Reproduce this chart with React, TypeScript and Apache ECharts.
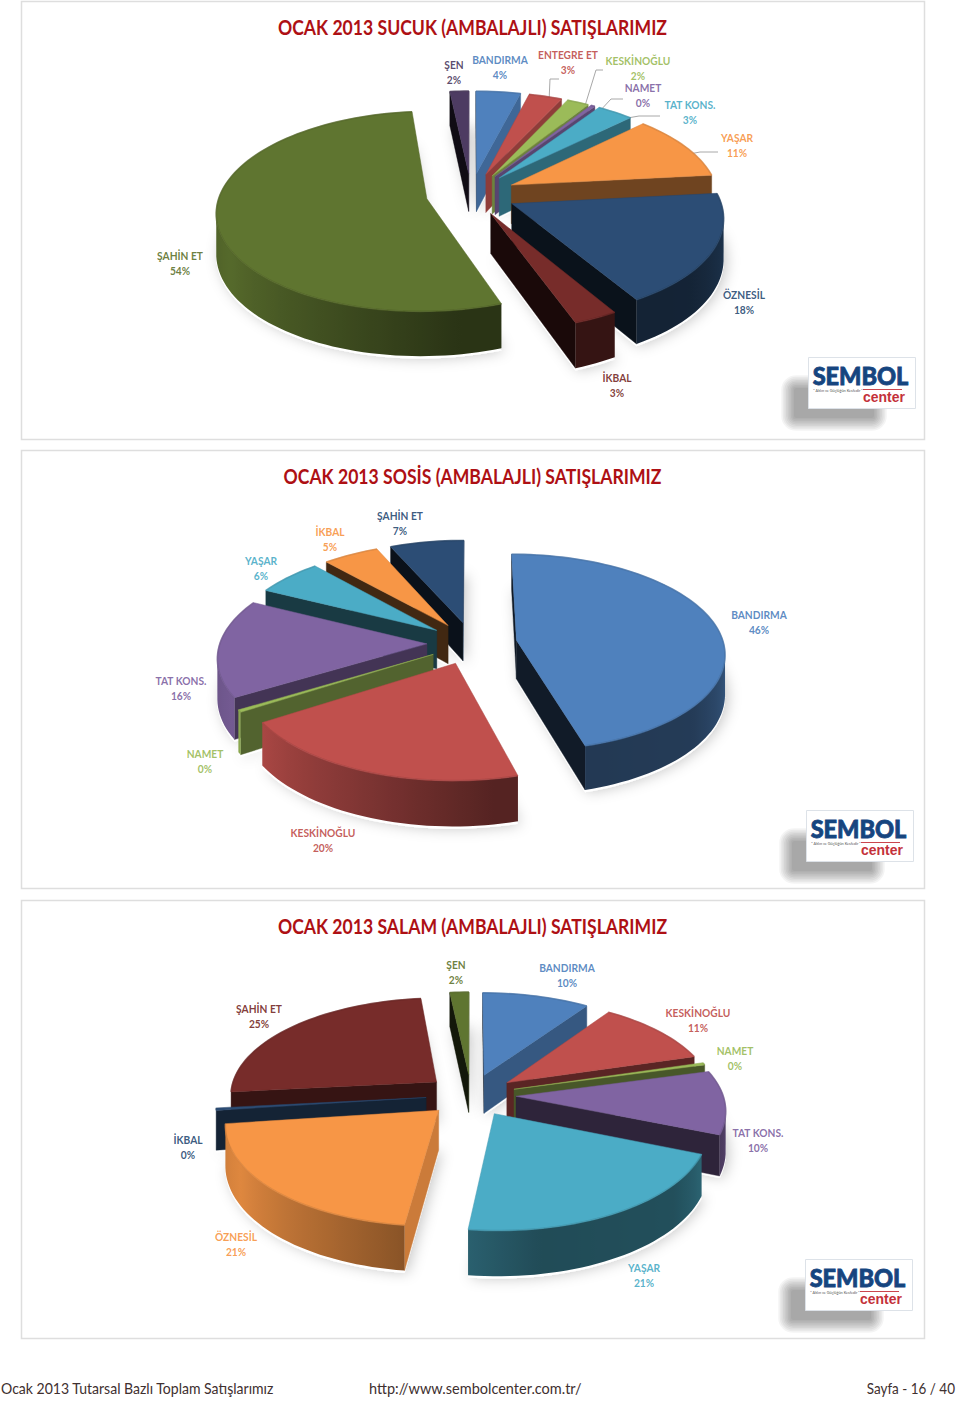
import React, { useEffect, useRef } from "react";
import * as echarts from "echarts";

const FONT = "Lato, 'Open Sans', sans-serif";

// ---------- data ----------
const title1 = "OCAK 2013 SUCUK (AMBALAJLI) SATIŞLARIMIZ";
const categories1 = ["BANDIRMA", "ENTEGRE ET", "KESKİNOĞLU", "NAMET", "TAT KONS.", "YAŞAR", "ÖZNESİL", "İKBAL", "ŞAHİN ET", "ŞEN"];
const values1 = [4, 3, 2, 0.4, 3.3, 10.7, 18.2, 3, 54, 1.7];
const colors1 = ["#4F81BD", "#C0504D", "#9BBB59", "#8064A2", "#4BACC6", "#F79646", "#2C4D75", "#772C2A", "#5F7530", "#4D3B62"];
const labelPos1 = [[500, 60], [568, 55], [638, 61], [643, 88], [690, 105], [737, 138], [744, 295], [617, 378], [180, 256], [454, 65]];

const title2 = "OCAK 2013 SOSİS (AMBALAJLI) SATIŞLARIMIZ";
const categories2 = ["BANDIRMA", "KESKİNOĞLU", "NAMET", "TAT KONS.", "YAŞAR", "İKBAL", "ŞAHİN ET"];
const values2 = [45.6, 20.2, 0.4, 16, 6, 5, 6.6];
const colors2 = ["#4F81BD", "#C0504D", "#9BBB59", "#8064A2", "#4BACC6", "#F79646", "#2C4D75"];
const labelPos2 = [[759, 615], [323, 833], [205, 754], [181, 681], [261, 561], [330, 532], [400, 516]];

const title3 = "OCAK 2013 SALAM (AMBALAJLI) SATIŞLARIMIZ";
const categories3 = ["BANDIRMA", "KESKİNOĞLU", "NAMET", "TAT KONS.", "YAŞAR", "ÖZNESİL", "İKBAL", "ŞAHİN ET", "ŞEN"];
const values3 = [9.6, 10.8, 0.4, 10.4, 20.8, 21, 0.4, 25, 1.7];
const colors3 = ["#4F81BD", "#C0504D", "#9BBB59", "#8064A2", "#4BACC6", "#F79646", "#2C4D75", "#772C2A", "#5F7530"];
const labelPos3 = [[567, 968], [698, 1013], [735, 1051], [758, 1133], [644, 1268], [236, 1237], [188, 1140], [259, 1009], [456, 965]];

const footerLeft = "Ocak 2013 Tutarsal Bazlı Toplam Satışlarımız";
const footerMid = "http://www.sembolcenter.com.tr/";
const footerRight = "Sayfa - 16 / 40";

// ---------- layout ----------
const pies = [
  { categories: categories1, values: values1, colors: colors1, labelPos: labelPos1, cx: 471, cy: 194 },
  { categories: categories2, values: values2, colors: colors2, labelPos: labelPos2, cx: 472, cy: 643 },
  { categories: categories3, values: values3, colors: colors3, labelPos: labelPos3, cx: 471, cy: 1095 },
];
const panels = [
  { y: 1, title: title1, titleX: 472.5, titleY: 27, logoX: 808, logoY: 357 },
  { y: 450, title: title2, titleX: 472.5, titleY: 476, logoX: 806, logoY: 810 },
  { y: 900, title: title3, titleX: 472.5, titleY: 926, logoX: 805, logoY: 1259 },
];
const leaders = [
  [[559, 79], [550, 79], [549, 102]],
  [[603, 70], [596, 70], [584, 109]],
  [[623, 99], [611, 99], [598, 113]],
  [[660, 116], [639, 116], [616, 120]],
  [[718, 152], [700, 152], [679, 156]],
];
const R = 207, K = 0.47, Q = 0.0006, E = 45, T = 39;

// ---------- helpers ----------
const rad = (d: number) => (d * Math.PI) / 180;
function shade(hex: string, f: number) {
  const n = parseInt(hex.slice(1), 16);
  const c = [(n >> 16) & 255, (n >> 8) & 255, n & 255].map((v) => Math.max(0, Math.min(255, Math.round(v * f))));
  return `rgb(${c[0]},${c[1]},${c[2]})`;
}
function lerpTable(table: number[][], x: number) {
  if (x <= table[0][0]) return table[0][1];
  for (let i = 1; i < table.length; i++) {
    if (x <= table[i][0]) {
      const [a, av] = table[i - 1], [b, bv] = table[i];
      return av + ((bv - av) * (x - a)) / (b - a);
    }
  }
  return table[table.length - 1][1];
}
const rimShade = [[60, 0.8], [90, 0.72], [130, 0.46], [170, 0.44], [205, 0.68], [240, 0.9], [270, 0.8], [300, 0.7]];
function radialShade(normalDeg: number) {
  const nx = Math.sin(rad(normalDeg));
  return nx >= 0 ? 0.45 + 0.38 * Math.pow(nx, 2.5) : 0.45 + 0.25 * nx;
}

function buildPieSeries(p: any) {
  const total = p.values.reduce((a: number, b: number) => a + b, 0);
  let cum = 0;
  const geo = p.values.map((v: number) => {
    const a0 = (cum / total) * 360;
    cum += v;
    const a1 = (cum / total) * 360;
    const mid = (a0 + a1) / 2;
    return { a0, a1, ox: E * Math.sin(rad(mid)), oy: E * Math.cos(rad(mid)) };
  });
  const order = geo
    .map((g: any, i: number) => {
      const m = (g.a0 + g.a1) / 2;
      return { i, depth: g.oy + 0.55 * R * Math.cos(rad(m)) };
    })
    .sort((a: any, b: any) => b.depth - a.depth)
    .map((d: any) => d.i);

  const project = (X: number, Y: number, drop = 0) => {
    const s = 1 / (1 + Q * Y);
    return [p.cx + X * s, p.cy - Y * K * s + drop * s];
  };
  const faces = (X: number, Y: number, nx: number, ny: number) => (-X) * nx + (-1 / Q - Y) * ny > 0;

  return {
    type: "custom",
    coordinateSystem: "none",
    silent: true,
    data: p.values.map((v: number, i: number) => [i, v]),
    renderItem: (params: any) => {
      const idx = params.dataIndex;
      const g = geo[idx];
      const color = p.colors[idx];
      const zBase = order.indexOf(idx) * 10 + 10;
      const px = (a: number) => [g.ox + R * Math.sin(rad(a)), g.oy + R * Math.cos(rad(a))];
      const arc: number[][] = [];
      const n = Math.max(2, Math.ceil((g.a1 - g.a0) / 2));
      for (let j = 0; j <= n; j++) arc.push(px(g.a0 + ((g.a1 - g.a0) * j) / n));

      const children: any[] = [];
      // soft halo behind the slice
      const floor = [project(g.ox, g.oy, T + 2)].concat(arc.map((q) => project(q[0], q[1], T + 2)));
      children.push({
        type: "polygon", z2: 1,
        shape: { points: floor },
        style: { fill: "#fff", shadowBlur: 14, shadowColor: "rgba(0,0,0,0.22)", shadowOffsetX: 3 },
      });

      const wall = (P: number[], nd: number, z: number) => {
        const nx = Math.sin(rad(nd)), ny = Math.cos(rad(nd));
        if (!faces(P[0], P[1], nx, ny)) return;
        const pts = [project(g.ox, g.oy), project(P[0], P[1]), project(P[0], P[1], T), project(g.ox, g.oy, T)];
        children.push({
          type: "polygon", z2: z,
          shape: { points: pts },
          style: { fill: shade(color, radialShade(nd)), stroke: shade(color, radialShade(nd)), lineWidth: 0.4 },
        });
      };
      const startNormal = g.a0 - 90, endNormal = g.a1 + 90;
      const startFirst = Math.cos(rad(startNormal)) > Math.cos(rad(endNormal));
      wall(px(g.a0), startNormal, zBase + (startFirst ? 1 : 2));
      wall(px(g.a1), endNormal, zBase + (startFirst ? 2 : 1));

      // rim, forward-facing part only
      const rim: number[][] = [];
      const angles: number[] = [];
      for (let j = 0; j <= n; j++) {
        const a = g.a0 + ((g.a1 - g.a0) * j) / n;
        const Pt = arc[j];
        if (faces(Pt[0], Pt[1], Math.sin(rad(a)), Math.cos(rad(a)))) {
          rim.push(Pt);
          angles.push(a);
        }
      }
      if (rim.length > 1) {
        const tops = rim.map((q) => project(q[0], q[1]));
        const bots = rim.map((q) => project(q[0], q[1], T));
        const xs = tops.map((q) => q[0]);
        const minX = Math.min(...xs), maxX = Math.max(...xs);
        const stops = tops
          .map((q, j) => ({ offset: (q[0] - minX) / Math.max(1, maxX - minX), color: shade(color, lerpTable(rimShade, angles[j])) }))
          .sort((a, b) => a.offset - b.offset);
        children.push({
          type: "polygon", z2: zBase + 3,
          shape: { points: tops.concat(bots.reverse()) },
          style: { fill: new echarts.graphic.LinearGradient(0, 0, 1, 0, stops) },
        });
      }
      // top face
      const top = [project(g.ox, g.oy)].concat(arc.map((q) => project(q[0], q[1])));
      children.push({
        type: "polygon", z2: zBase + 5,
        shape: { points: top },
        style: { fill: color, stroke: shade(color, 0.9), lineWidth: 0.5 },
      });
      children.push({
        type: "polyline", z2: zBase + 6,
        shape: { points: arc.map((q) => project(q[0], q[1])) },
        style: { fill: "none", stroke: shade(color, 0.88), lineWidth: 1.6, opacity: 0.7 },
      });
      // label
      const pos = p.labelPos[idx];
      const pct = Math.round((p.values[idx] / total) * 100);
      [p.categories[idx], `${pct}%`].forEach((t: string, li: number) => {
        children.push({
          type: "text", z2: 1000, x: pos[0], y: pos[1] - 0.5 + li * 14.6, scaleX: 0.89,
          style: { text: t, fill: color, font: `bold 11.5px ${FONT}`, align: "center", verticalAlign: "middle", opacity: 0.92 },
        });
      });
      return { type: "group", children };
    },
  };
}

function buildGraphic() {
  const els: any[] = [];
  panels.forEach((pn) => {
    els.push({ type: "rect", z: -10, shape: { x: 21.5, y: pn.y + 0.5, width: 903, height: 438 }, style: { fill: "#fff", stroke: "#dedede", lineWidth: 1.5 } });
    els.push({ type: "text", x: pn.titleX, y: pn.titleY, scaleX: 0.88, style: { text: pn.title, fill: "#AE1014", font: `bold 20px ${FONT}`, align: "center", verticalAlign: "middle" } });
    const lx = pn.logoX, ly = pn.logoY;
    // blurred drop shadow built from layered translucent rectangles
    for (let i = 0; i < 9; i++) {
      const grow = i * 1.6;
      els.push({
        type: "rect", z: -5,
        shape: { x: lx - 14 - grow, y: ly + 31 - grow, width: 80 + 2 * grow, height: 30 + 2 * grow, r: 2 + grow },
        style: { fill: "#000", opacity: 0.042 },
      });
    }
    els.push({ type: "rect", shape: { x: lx + 0.5, y: ly + 0.5, width: 107, height: 51 }, style: { fill: "#fff", stroke: "#dde2e8", lineWidth: 1 } });
    els.push({ type: "text", x: lx + 52.5, y: ly + 19, scaleX: 0.98, style: { text: "SEMBOL", fill: "#16457F", stroke: "#16457F", lineWidth: 0.8, font: `900 24px ${FONT}`, lineHeight: 18, align: "center", verticalAlign: "middle" } });
    els.push({ type: "line", shape: { x1: lx + 55, y1: ly + 32.5, x2: lx + 94, y2: ly + 32.5 }, style: { stroke: "#C4313A", lineWidth: 0.9 } });
    els.push({ type: "text", x: lx + 76, y: ly + 39.5, scaleX: 0.9, style: { text: "center", fill: "#C4313A", font: "bold 15.5px 'Liberation Sans', sans-serif", lineHeight: 12, align: "center", verticalAlign: "middle" } });
    els.push({ type: "text", x: lx + 30, y: ly + 33.5, style: { text: "\" Aklın ve Güçlüğün Kesfedir \"", fill: "#555", font: `3.8px ${FONT}`, lineHeight: 4, align: "center", verticalAlign: "middle" } });
  });
  leaders.forEach((pts) => {
    els.push({ type: "polyline", shape: { points: pts }, style: { stroke: "#a8a8a8", lineWidth: 1, fill: "none" } });
  });
  const footY = 1388.5;
  const fst = { fill: "#40302f", font: `14.5px ${FONT}`, verticalAlign: "middle" };
  els.push({ type: "text", x: 1, y: footY, scaleX: 0.97, style: { ...fst, text: footerLeft, align: "left" } });
  els.push({ type: "text", x: 369, y: footY, style: { ...fst, text: footerMid, align: "left" } });
  els.push({ type: "text", x: 955, y: footY, scaleX: 0.93, style: { ...fst, text: footerRight, align: "right" } });
  return els;
}

export default function App() {
  const ref = useRef<HTMLDivElement>(null);
  useEffect(() => {
    document.body.style.margin = "0";
    const chart = echarts.init(ref.current!, null, { renderer: "svg" });
    chart.setOption({
      animation: false,
      backgroundColor: "#fff",
      graphic: { elements: buildGraphic() },
      series: pies.map(buildPieSeries),
    });
    return () => chart.dispose();
  }, []);
  return <div ref={ref} style={{ width: 960, height: 1401 }} />;
}
